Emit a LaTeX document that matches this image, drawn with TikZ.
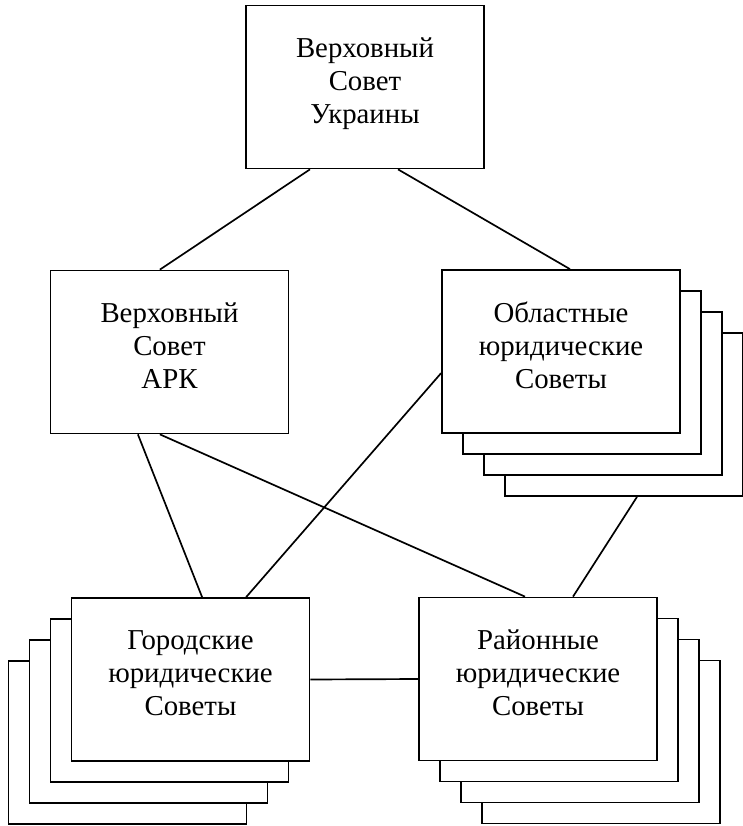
\documentclass[tikz,border=0pt]{standalone}
\usepackage{fontspec}
\setmainfont{Liberation Serif}
\usepackage{tikz}

\tikzset{
  box/.style={draw, fill=white, line width=1.2pt, minimum width=5.95cm, minimum height=4.075cm,
    align=center, font=\fontsize{20.5}{23.5}\selectfont, text depth=0.3cm, inner sep=0pt},
  link/.style={line width=1.2pt}
}

\begin{document}
\begin{tikzpicture}[x=0.025cm, y=-0.025cm]
\useasboundingbox (0,0) rectangle (742,826);

\node[box] (top) at (365, 87) {Верховный\\Совет\\Украины};
\node[box] (ark) at (169.5, 352) {Верховный\\Совет\\АРК};

\foreach \i in {3,2,1}
  \node[box] (obl\i) at ({561+21*\i}, {351.5+21*\i}) {};
\node[box] (obl) at (561, 351.5) {Областные\\юридические\\Советы};

\foreach \i in {3,2,1}
  \node[box] (gor\i) at ({190.5-21*\i}, {679.5+21*\i}) {};
\node[box] (gor) at (190.5, 679.5) {Городские\\юридические\\Советы};

\foreach \i in {3,2,1}
  \node[box] (ray\i) at ({538+21*\i}, {679+21*\i}) {};
\node[box] (ray) at (538, 679) {Районные\\юридические\\Советы};

\draw[link] ([xshift=-1.375cm]top.south) -- ([xshift=-0.24cm]ark.north);
\draw[link] ([xshift=0.825cm]top.south) -- ([xshift=0.225cm]obl.north);
\draw[link] ([xshift=-0.79cm]ark.south) -- ([xshift=0.29cm]gor.north);
\draw[link] ([xshift=-0.24cm]ark.south) -- ([xshift=-0.325cm]ray.north);
\draw[link] ([yshift=-0.54cm]obl.west) -- ([xshift=1.39cm]gor.north);
\draw[link] ([xshift=0.325cm]obl3.south) -- ([xshift=0.875cm]ray.north);
\draw[link] (gor.east) -- (ray.west);
\end{tikzpicture}
\end{document}
